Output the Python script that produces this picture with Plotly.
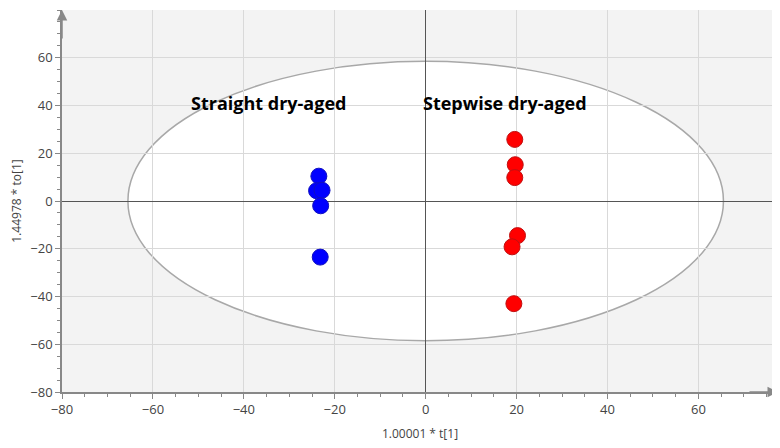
import plotly.graph_objects as go

# Scores
straight_t = [-23.5, -24.0, -22.8, -23.1, -23.2]
straight_to = [10.4, 4.3, 4.5, -2.0, -23.5]
stepwise_t = [19.6, 19.7, 19.6, 20.2, 19.0, 19.4]
stepwise_to = [25.8, 15.2, 9.8, -14.5, -19.2, -43.0]

x_ticks = [-80, -60, -40, -20, 0, 20, 40, 60]
y_ticks = [-80, -60, -40, -20, 0, 20, 40, 60]

group_labels = ["Straight dry-aged", "Stepwise dry-aged"]
label_x = [-34.5, 17.5]
label_y = [41, 41]

ellipse_a = 65.5
ellipse_b = 58.5

fig = go.Figure()
fig.add_trace(go.Scatter(
    x=straight_t, y=straight_to, mode="markers", name=group_labels[0],
    marker=dict(size=16, color="#0000ff", line=dict(color="#1010c0", width=1)),
))
fig.add_trace(go.Scatter(
    x=stepwise_t, y=stepwise_to, mode="markers", name=group_labels[1],
    marker=dict(size=16, color="#ff0000", line=dict(color="#c01010", width=1)),
))

fig.add_shape(type="circle", xref="x", yref="y",
              x0=-ellipse_a, x1=ellipse_a, y0=-ellipse_b, y1=ellipse_b,
              fillcolor="white", line=dict(color="#a8a8a8", width=1.5), layer="below")

for t, xx, yy in zip(group_labels, label_x, label_y):
    fig.add_annotation(x=xx, y=yy, text="<b>%s</b>" % t, showarrow=False,
                       font=dict(family="Open Sans", size=18, color="black"))

# arrows at axis ends
fig.add_annotation(xref="paper", yref="paper", x=0, y=1, ax=0, ay=30, text="",
                   showarrow=True, arrowhead=2, arrowsize=1.4, arrowwidth=1.5, arrowcolor="#888")
fig.add_annotation(xref="paper", yref="paper", x=1, y=0, ax=-30, ay=0, text="",
                   showarrow=True, arrowhead=2, arrowsize=1.4, arrowwidth=1.5, arrowcolor="#888")

axis_common = dict(
    automargin=False,
    showgrid=True, gridcolor="#d9d9d9", gridwidth=1,
    zeroline=True, zerolinecolor="#555555", zerolinewidth=1.2,
    showline=True, linecolor="#888888", linewidth=1.5,
    ticks="outside", ticklen=5, tickcolor="#888888",
    tickfont=dict(family="Open Sans", size=13, color="#444444"),
    minor=dict(dtick=5, ticks="outside", ticklen=3, tickcolor="#888888", showgrid=False),
)

fig.update_layout(
    width=772, height=440,
    margin=dict(l=54, r=2, t=2, b=56),
    plot_bgcolor="#f3f3f3", paper_bgcolor="white",
    showlegend=False,
    xaxis=dict(range=[-80, 77.5], tickvals=x_ticks,
               title=dict(text="1.00001 * t[1]", font=dict(family="Open Sans", size=12, color="#444444"), standoff=12),
               **axis_common),
    yaxis=dict(range=[-80, 80], tickvals=y_ticks,
               title=dict(text="1.44978 * to[1]", font=dict(family="Open Sans", size=12, color="#444444"), standoff=6),
               **axis_common),
)

fig.write_html("out.html")
